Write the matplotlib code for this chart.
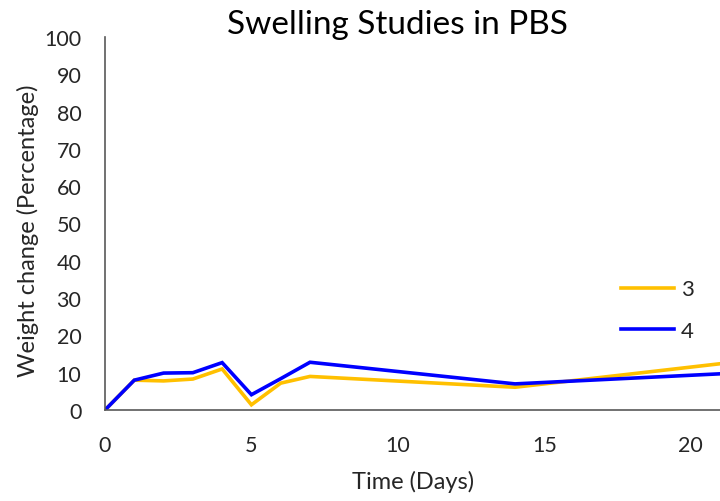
import matplotlib
matplotlib.use("Agg")
import matplotlib.pyplot as plt

days = [0, 1, 2, 3, 4, 5, 6, 7, 14, 21]
sample_3 = [0, 8, 7.8, 8.3, 11, 1.4, 7.2, 9.0, 6.1, 12.4]
sample_4 = [0, 8, 9.9, 10, 12.7, 4.1, 8.4, 12.8, 7.0, 9.7]
series_names = ['3', '4']
series_colors = ['#FFC000', '#0000FF']
y_ticks = list(range(0, 101, 10))
x_ticks = [0, 5, 10, 15, 20]

plt.rcParams['font.family'] = ['Lato', 'DejaVu Sans']
text_color = '#262626'

fig = plt.figure(figsize=(7.2, 5.02), dpi=100)
ax = fig.add_axes([105 / 720, 1 - 411 / 502, 1 - 105 / 720, (411 - 38) / 502])

for values, name, color in zip([sample_3, sample_4], series_names, series_colors):
    ax.plot(days, values, color=color, lw=2.6, label=name, solid_joinstyle='miter')

ax.set_xlim(0, 21)
ax.set_ylim(0, 100)
ax.set_xticks(x_ticks)
ax.set_yticks(y_ticks)
ax.tick_params(length=0, labelsize=15.5, colors=text_color)
ax.tick_params(axis='y', pad=17)
ax.tick_params(axis='x', pad=18)
for side in ('top', 'right'):
    ax.spines[side].set_visible(False)
for side in ('left', 'bottom'):
    ax.spines[side].set_color('#595959')
    ax.spines[side].set_linewidth(1.2)

fig.text(397 / 720, 1 - 25 / 502, 'Swelling Studies in PBS', ha='center', va='center',
         fontsize=24, color='#000000')
fig.text(413 / 720, 1 - 482 / 502, 'Time (Days)', ha='center', va='center',
         fontsize=17, color=text_color)
fig.text(28 / 720, 1 - 231 / 502, 'Weight change (Percentage)', ha='center', va='center',
         rotation=90, fontsize=17, color=text_color)

ax.legend(loc='center left', bbox_to_anchor=(516 / 615, (411 - 311) / 373),
          frameon=False, fontsize=16, handlelength=2.4, handletextpad=0.3,
          labelspacing=0.95, labelcolor=text_color, borderaxespad=0, borderpad=0)

fig.savefig('out.png', dpi=100)
